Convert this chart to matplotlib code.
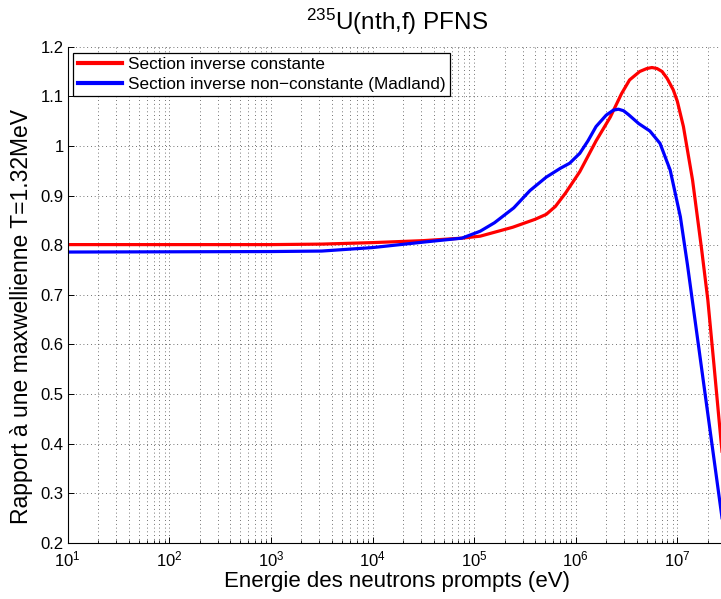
import matplotlib
matplotlib.use("Agg")
import matplotlib.pyplot as plt
import numpy as np
from matplotlib.ticker import LogLocator, FixedLocator, NullFormatter

plt.rcParams['font.family'] = ['Liberation Sans', 'DejaVu Sans']
plt.rcParams['mathtext.fontset'] = 'custom'
plt.rcParams['mathtext.rm'] = 'Liberation Sans'
plt.rcParams['mathtext.it'] = 'Liberation Sans:italic'
plt.rcParams['mathtext.default'] = 'regular'

# Data: log10 of energy (eV) and ratio values
red_logE = [1.0, 3.0, 3.5, 4.0, 4.5, 4.88, 5.06, 5.38, 5.6, 5.71, 5.8, 5.9, 6.04,
            6.2, 6.34, 6.45, 6.53, 6.63, 6.7, 6.75, 6.8, 6.85, 6.9, 6.96, 7.0,
            7.06, 7.15, 7.24, 7.3, 7.36, 7.43, 7.48]
red_val = [0.801, 0.801, 0.802, 0.805, 0.809, 0.814, 0.818, 0.836, 0.852, 0.862,
           0.878, 0.905, 0.948, 1.010, 1.058, 1.105, 1.133, 1.150, 1.156, 1.158,
           1.156, 1.150, 1.136, 1.113, 1.090, 1.039, 0.931, 0.790, 0.690, 0.560,
           0.405, 0.300]

blue_logE = [1.0, 3.0, 3.5, 4.0, 4.5, 4.88, 5.06, 5.2, 5.39, 5.55, 5.71, 5.85,
             5.94, 6.04, 6.12, 6.2, 6.3, 6.37, 6.42, 6.47, 6.52, 6.62, 6.73, 6.83,
             6.93, 7.03, 7.1, 7.2, 7.3, 7.42, 7.48]
blue_val = [0.786, 0.787, 0.788, 0.795, 0.806, 0.814, 0.828, 0.845, 0.875, 0.910,
            0.937, 0.955, 0.965, 0.985, 1.010, 1.039, 1.062, 1.072, 1.074, 1.071,
            1.063, 1.045, 1.030, 1.005, 0.951, 0.857, 0.760, 0.610, 0.460, 0.280,
            0.190]

labels = ['Section inverse constante', 'Section inverse non\u2212constante (Madland)']
title = r'$^{235}$U(nth,f) PFNS'
xlabel = 'Energie des neutrons prompts (eV)'
ylabel = 'Rapport \u00e0 une maxwellienne T=1.32MeV'
xticks = [1e1, 1e2, 1e3, 1e4, 1e5, 1e6, 1e7]
yticks = [0.2, 0.3, 0.4, 0.5, 0.6, 0.7, 0.8, 0.9, 1.0, 1.1, 1.2]
ytick_labels = ['0.2', '0.3', '0.4', '0.5', '0.6', '0.7', '0.8', '0.9', '1', '1.1', '1.2']

W, H = 721, 599
fig = plt.figure(figsize=(W / 100, H / 100), dpi=100)
left, bottom, top, right = 67.7, 542.7, 46.7, 725.8
ax = fig.add_axes([left / W, (H - bottom) / H, (right - left) / W, (bottom - top) / H])

ax.plot(10 ** np.array(red_logE), red_val, color='#ff0000', lw=2.3, label=labels[0])
ax.plot(10 ** np.array(blue_logE), blue_val, color='#0000ff', lw=2.3, label=labels[1])

ax.set_xscale('log')
ax.set_xlim(1e1, 3e7)
ax.set_ylim(0.2, 1.2)
ax.yaxis.set_major_locator(FixedLocator(yticks))
ax.set_yticklabels(ytick_labels)
ax.xaxis.set_major_locator(FixedLocator(xticks))
ax.set_xticklabels([r'$10^{%d}$' % int(np.log10(v)) for v in xticks])
ax.xaxis.set_minor_locator(LogLocator(base=10, subs=range(2, 10), numticks=100))
ax.xaxis.set_minor_formatter(NullFormatter())

for s in ['top', 'right']:
    ax.spines[s].set_visible(False)
for s in ['left', 'bottom']:
    ax.spines[s].set_linewidth(0.8)

ax.tick_params(axis='both', which='major', direction='in', length=4, width=0.7,
               labelsize=12, top=False, right=False, pad=3)
ax.tick_params(axis='x', which='minor', direction='in', length=2.5, width=0.6, top=False)
ax.tick_params(axis='x', which='major', pad=5)

grid_kw = dict(color='#444444', linestyle=(0, (1, 3.5)), linewidth=0.6)
ax.grid(True, which='major', axis='both', **grid_kw)
ax.grid(True, which='minor', axis='x', **grid_kw)

ax.set_title(title, fontsize=17.5, pad=12)
ax.set_xlabel(xlabel, fontsize=16, labelpad=1)
ax.set_ylabel(ylabel, fontsize=16.5)
ax.yaxis.set_label_coords(-0.052, 0.456)

leg = ax.legend(loc='upper left', bbox_to_anchor=(0.0085, 0.988), fontsize=12.3,
                frameon=True, fancybox=False, edgecolor='black', framealpha=1,
                handlelength=2.6, handletextpad=0.35, labelspacing=0.3,
                borderpad=0.25, borderaxespad=0)
leg.get_frame().set_linewidth(0.9)
for l in leg.get_lines():
    l.set_linewidth(3)

fig.savefig('out.png', dpi=100)
